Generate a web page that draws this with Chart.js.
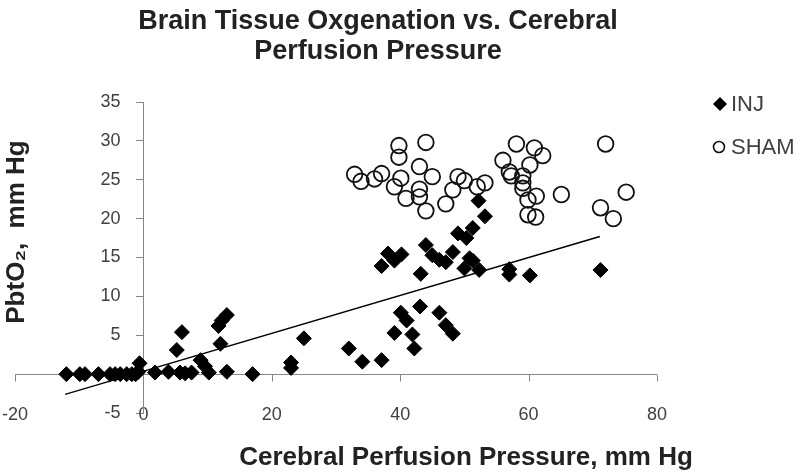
<!DOCTYPE html>
<html><head><meta charset="utf-8">
<script src="https://cdn.jsdelivr.net/npm/chart.js@4.4.1/dist/chart.umd.min.js"></script>
<style>html,body{margin:0;padding:0;background:#fff}#wrap{width:800px;height:474px;position:relative}</style>
</head><body><div id="wrap"><canvas id="c" width="800" height="474"></canvas></div>
<script>
// ---- data ----
const injX = [-12.0,-9.9,-9.1,-7.0,-5.2,-4.4,-3.6,-2.6,-1.8,-1.2,-0.8,-0.6,
  1.8,3.9,5.7,6.5,7.5,8.9,9.6,10.2,13.0,17.0,5.2,6.0,11.7,12.2,13.0,12.0,
  23.0,23.0,25.0,
  32.0,34.1,37.1,39.1,40.1,41.0,41.9,42.2,43.1,46.1,47.1,48.2,
  37.1,38.1,39.1,40.2,43.2,44.0,45.0,46.1,47.1,48.2,49.0,50.3,51.3,50.8,50.0,51.3,52.3,52.2,53.2,
  57.0,57.0,60.2,71.2];
const injY = [0,0,0,0,0,0,0,0,0,0,0.3,1.4,
  0.2,0.3,0.2,0.1,0.2,1.8,1.0,0.2,0.3,0,3.1,5.4,6.2,6.9,7.6,3.9,
  1.5,0.8,4.6,
  3.3,1.6,1.8,5.3,7.9,6.9,5.1,3.3,8.7,7.9,6.3,5.2,
  13.9,15.5,14.6,15.4,12.9,16.6,15.3,14.7,14.4,15.7,18.1,17.5,18.8,14.9,13.6,14.6,13.4,22.3,20.3,
  13.5,12.8,12.7,13.4];
const shamX = [32.9,33.9,36.0,37.1,39.8,39.8,40.1,39.1,40.9,43.0,43.0,43.0,44.0,44.0,45.0,47.1,48.2,49.0,50.0,52.0,53.2,
  56.0,57.0,57.3,58.1,59.1,59.1,59.1,59.9,59.9,60.2,60.9,61.2,61.1,62.2,65.1,71.2,72.0,73.2,75.2];
const shamY = [25.7,24.8,25.1,25.8,29.4,27.9,25.2,24.1,22.6,26.7,23.8,22.8,29.8,21.0,25.4,21.9,23.7,25.4,24.9,24.1,24.6,
  27.5,26.0,25.5,29.6,25.5,24.6,23.9,22.4,20.5,26.9,29.1,22.9,20.2,28.1,23.1,21.4,29.6,20.0,23.4];
const trendX = [-12.2, 71.1];
const trendY = [-2.6, 17.7];
const xTicks = [-20, 0, 20, 40, 60, 80];
const yTicks = [-5, 0, 5, 10, 15, 20, 25, 30, 35];
const yTickLabels = ['-5', '', '5', '10', '15', '20', '25', '30', '35'];
const seriesNames = ['INJ', 'SHAM'];
const titleLines = ['Brain Tissue Oxgenation vs. Cerebral', 'Perfusion Pressure'];
const xTitle = 'Cerebral Perfusion Pressure, mm Hg';
const yTitle = 'PbtO\u2082,  mm Hg';

const toPts = (xs, ys) => xs.map((x, i) => ({x: x, y: ys[i]}));
const AXIS = '#868686';
const TXT = '#404040';
const FONT = '"Liberation Sans", Arial, sans-serif';

const decor = {
  id: 'decor',
  beforeDatasetsDraw(chart) {
    const ctx = chart.ctx, xs = chart.scales.x, ys = chart.scales.y;
    const y0 = Math.round(ys.getPixelForValue(0)) + 0.5;
    ctx.save();
    ctx.strokeStyle = AXIS; ctx.lineWidth = 1;
    ctx.beginPath();
    ctx.moveTo(xs.getPixelForValue(xTicks[0]), y0);
    ctx.lineTo(xs.getPixelForValue(xTicks[xTicks.length - 1]), y0);
    xTicks.forEach(v => {
      const px = Math.round(xs.getPixelForValue(v)) + 0.5;
      ctx.moveTo(px, y0); ctx.lineTo(px, y0 + 7);
    });
    ctx.stroke();
    // y tick labels, positioned through the y scale
    const ax = xs.getPixelForValue(0);
    ctx.fillStyle = TXT; ctx.font = '18px ' + FONT;
    ctx.textAlign = 'right'; ctx.textBaseline = 'middle';
    yTicks.forEach((v, i) => {
      ctx.fillText(yTickLabels[i], ax - 23, ys.getPixelForValue(v));
    });
    ctx.restore();
  },
  afterDraw(chart) {
    const ctx = chart.ctx;
    ctx.save();
    ctx.fillStyle = '#222';
    ctx.textAlign = 'center'; ctx.textBaseline = 'middle';
    ctx.font = 'bold 27px ' + FONT;
    ctx.fillText(titleLines[0], 378, 22);
    ctx.fillText(titleLines[1], 378, 52);
    ctx.font = 'bold 26px ' + FONT;
    ctx.fillText(xTitle, 466, 458);
    ctx.save();
    ctx.translate(17, 232); ctx.rotate(-Math.PI / 2);
    ctx.fillText(yTitle, 0, 0);
    ctx.restore();
    // legend
    ctx.fillStyle = '#000'; ctx.strokeStyle = '#111';
    ctx.beginPath();
    ctx.moveTo(720, 97); ctx.lineTo(727, 104); ctx.lineTo(720, 111); ctx.lineTo(713, 104); ctx.closePath();
    ctx.fill();
    ctx.lineWidth = 1.6;
    ctx.beginPath(); ctx.arc(719, 147, 5.5, 0, Math.PI * 2); ctx.stroke();
    ctx.fillStyle = TXT; ctx.textAlign = 'left';
    ctx.font = '22px ' + FONT;
    ctx.fillText(seriesNames[0], 731, 105);
    ctx.fillText(seriesNames[1], 731, 148);
    ctx.restore();
  }
};

new Chart(document.getElementById('c'), {
  type: 'scatter',
  data: {
    datasets: [
      {label: 'trend', type: 'line', data: toPts(trendX, trendY), borderColor: '#000', borderWidth: 1.4,
        pointRadius: 0, fill: false, showLine: true},
      {label: seriesNames[0], data: toPts(injX, injY), pointStyle: 'rectRot', pointRadius: 7.5,
        backgroundColor: '#000', borderColor: '#000', borderWidth: 1},
      {label: seriesNames[1], data: toPts(shamX, shamY), pointStyle: 'circle', pointRadius: 7.8,
        backgroundColor: 'rgba(0,0,0,0)', borderColor: '#111', borderWidth: 1.8}
    ]
  },
  options: {
    responsive: false, animation: false, events: [],
    layout: {padding: {top: 102, left: 15, right: 143, bottom: 61}},
    plugins: {legend: {display: false}, tooltip: {enabled: false}, title: {display: false}},
    scales: {
      x: {
        type: 'linear', min: xTicks[0], max: xTicks[xTicks.length - 1], position: {y: yTicks[0]},
        afterBuildTicks: s => { s.ticks = xTicks.map(v => ({value: v})); },
        grid: {display: false}, border: {display: false},
        ticks: {padding: -17, color: TXT, font: {family: FONT, size: 18}, maxRotation: 0}
      },
      y: {
        type: 'linear', min: yTicks[0], max: yTicks[yTicks.length - 1], position: {x: 0},
        afterBuildTicks: s => { s.ticks = yTicks.map(v => ({value: v})); },
        grid: {display: true, drawOnChartArea: false, drawTicks: true, tickLength: 7, color: AXIS, lineWidth: 1},
        border: {display: true, color: AXIS, width: 1},
        ticks: {display: false}
      }
    }
  },
  plugins: [decor]
});
</script>
</body></html>
